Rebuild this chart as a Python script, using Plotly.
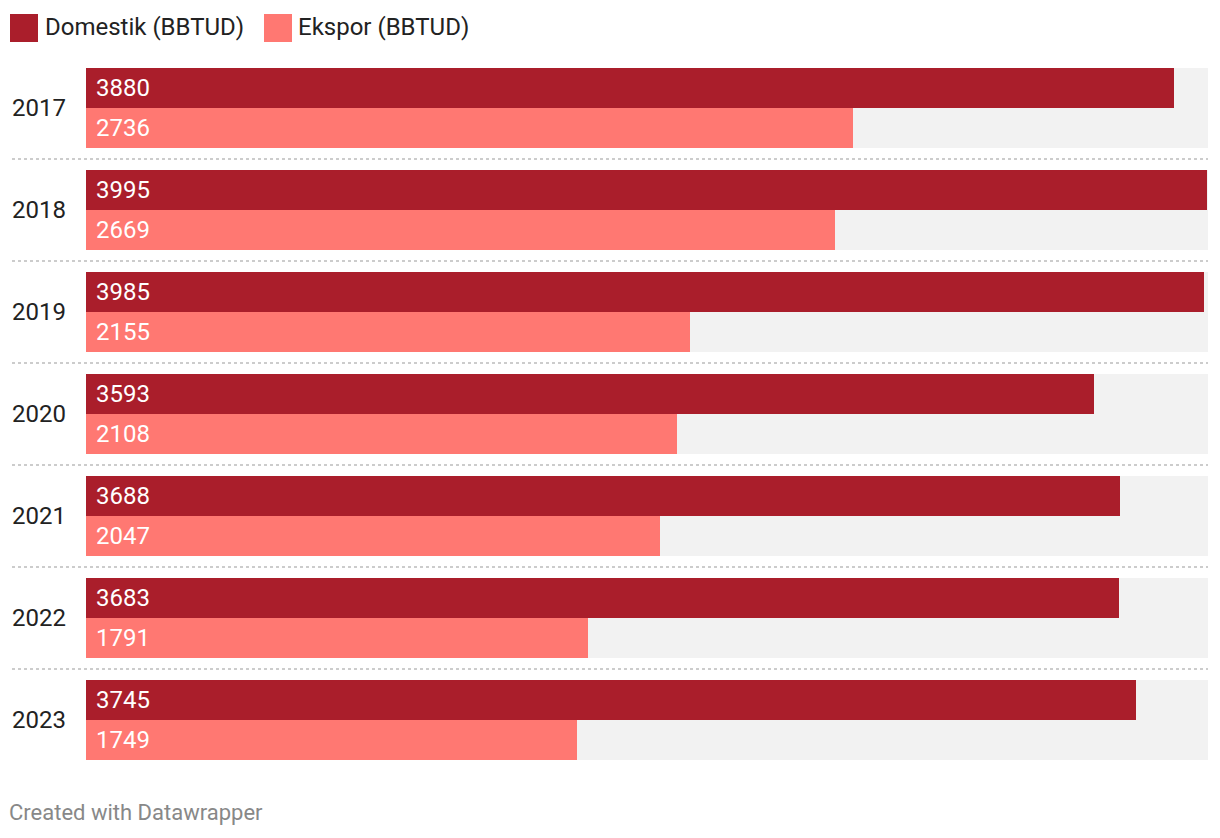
import plotly.graph_objects as go

years = ["2017", "2018", "2019", "2020", "2021", "2022", "2023"]
domestik = [3880, 3995, 3985, 3593, 3688, 3683, 3745]
ekspor = [2736, 2669, 2155, 2108, 2047, 1791, 1749]
series_names = ["Domestik (BBTUD)", "Ekspor (BBTUD)"]
colors = ["#aa1e2b", "#ff7872"]
bg_color = "#f2f2f2"
x_max = 4000

W, H = 1220, 838
L, R, T, B = 86, 12, 68, 78
PW, PH = W - L - R, H - T - B
PITCH = 102
BAR = 40
FONT = "Roboto, sans-serif"
FS = 24

def px_x(p):
    return (p - L) / PW

def px_y(p):
    return 1 - (p - T) / PH

n = len(years)
dark_y = [BAR / 2 + PITCH * i for i in range(n)]
light_y = [BAR * 1.5 + PITCH * i for i in range(n)]
group_y = [BAR + PITCH * i for i in range(n)]

fig = go.Figure()
fig.add_trace(go.Bar(x=[x_max] * n, y=group_y, width=[2 * BAR] * n, orientation="h",
                     marker=dict(color=bg_color, line=dict(width=0)), hoverinfo="skip", showlegend=False))
fig.add_trace(go.Bar(x=domestik, y=dark_y, width=[BAR] * n, orientation="h", name=series_names[0],
                     marker=dict(color=colors[0], line=dict(width=0)), showlegend=False))
fig.add_trace(go.Bar(x=ekspor, y=light_y, width=[BAR] * n, orientation="h", name=series_names[1],
                     marker=dict(color=colors[1], line=dict(width=0)), showlegend=False))

annotations = []
shapes = []
for i in range(n):
    annotations.append(dict(x=0, y=dark_y[i], xref="x", yref="y", text=str(domestik[i]), showarrow=False,
                            xanchor="left", yanchor="middle", xshift=8, font=dict(family=FONT, size=FS, color="white")))
    annotations.append(dict(x=0, y=light_y[i], xref="x", yref="y", text=str(ekspor[i]), showarrow=False,
                            xanchor="left", yanchor="middle", xshift=8, font=dict(family=FONT, size=FS, color="white")))
    annotations.append(dict(x=px_x(10), y=group_y[i], xref="paper", yref="y", text=years[i], showarrow=False,
                            xanchor="left", yanchor="middle", font=dict(family=FONT, size=FS, color="#222222")))
    if i < n - 1:
        sy = group_y[i] + (PITCH) / 2
        shapes.append(dict(type="line", xref="paper", yref="y", x0=px_x(12), x1=px_x(1208), y0=sy, y1=sy,
                           line=dict(color="#cccccc", width=2, dash="dot")))

# legend
leg_x = [10, 264]
leg_text_x = [43, 296]
for k in range(2):
    shapes.append(dict(type="rect", xref="paper", yref="paper", x0=px_x(leg_x[k]), x1=px_x(leg_x[k] + 28),
                       y0=px_y(14), y1=px_y(42), fillcolor=colors[k], line=dict(width=0)))
    annotations.append(dict(x=px_x(leg_text_x[k]), y=px_y(27), xref="paper", yref="paper", text=series_names[k],
                            showarrow=False, xanchor="left", yanchor="middle",
                            font=dict(family=FONT, size=FS, color="#222222")))

annotations.append(dict(x=px_x(7), y=px_y(812), xref="paper", yref="paper", text="Created with Datawrapper",
                        showarrow=False, xanchor="left", yanchor="middle",
                        font=dict(family=FONT, size=22, color="#888888")))

fig.update_layout(
    width=W, height=H, margin=dict(l=L, r=R, t=T, b=B),
    paper_bgcolor="white", plot_bgcolor="white",
    barmode="overlay", bargap=0,
    xaxis=dict(range=[0, x_max], visible=False, fixedrange=True),
    yaxis=dict(range=[PH, 0], visible=False, fixedrange=True),
    annotations=annotations, shapes=shapes, showlegend=False,
)
fig.write_html("out.html")
